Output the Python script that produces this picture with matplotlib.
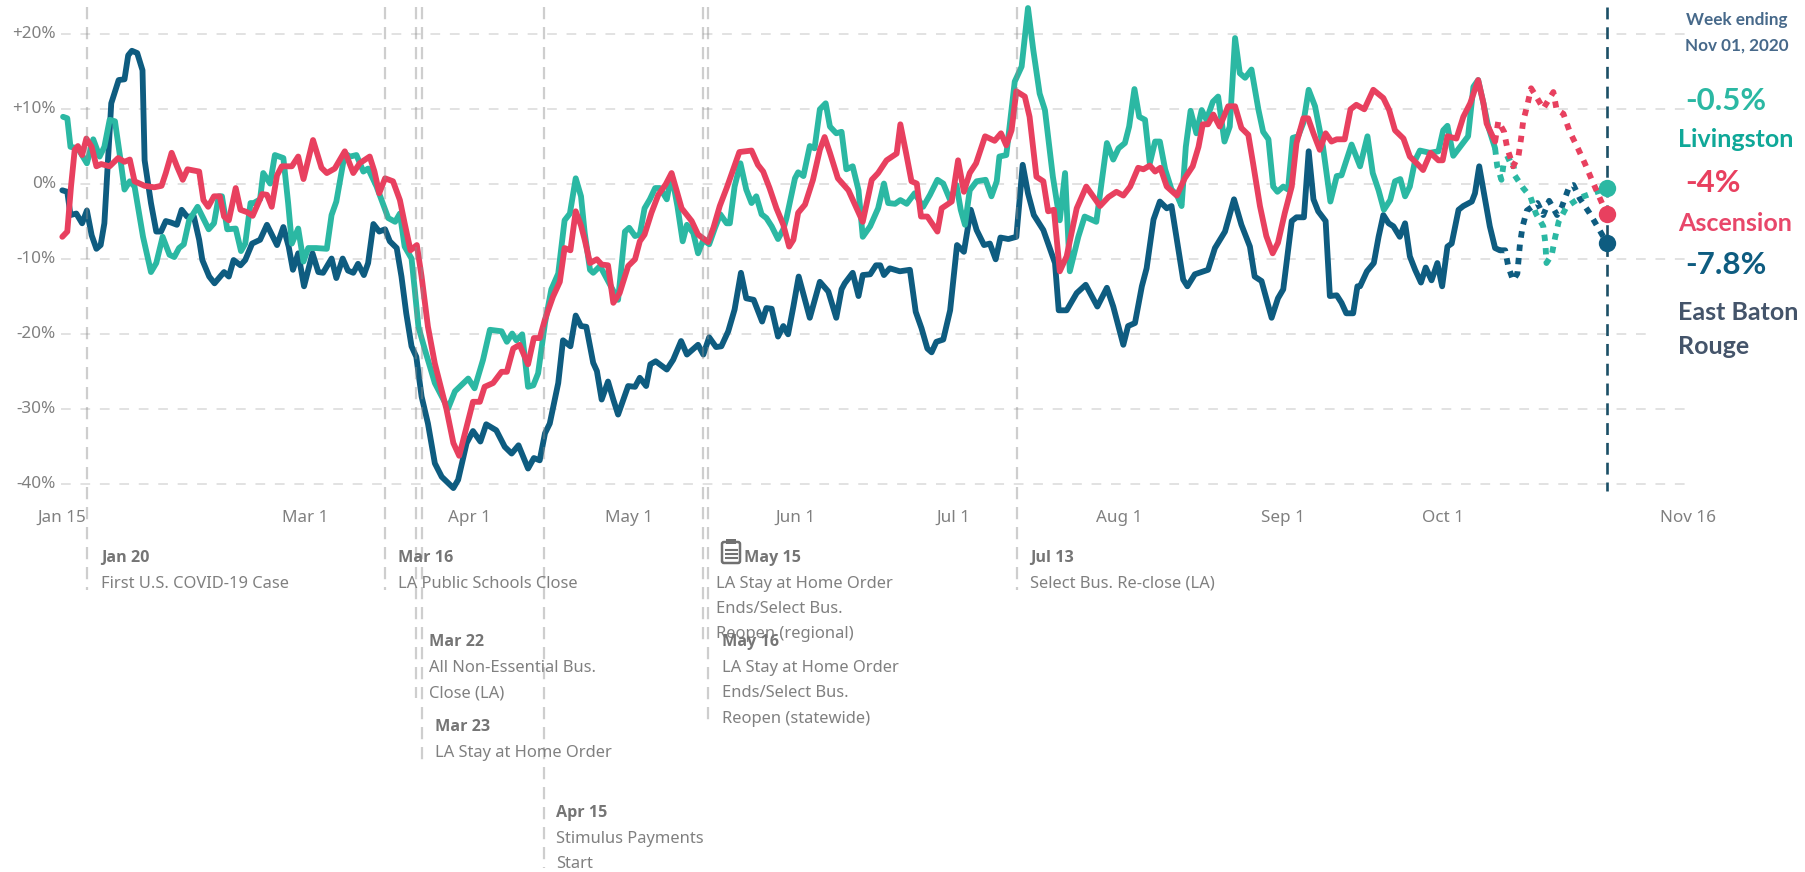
import numpy as np
import matplotlib
matplotlib.use('Agg')
import matplotlib.pyplot as plt
from matplotlib.patches import FancyBboxPatch, Rectangle

W, H = 1805, 872

# days since Jan 15
green_days = [0.2,1,1.6,3,4.7,5.9,7.1,8,9,10,10.9,11.8,12.8,13.7,15.3,16.8,17.8,19,20.3,21.2,22.1,23,24,25.6,26.5,27.7,28.7,29.6,30.2,31.2,32.8,33.8,34.6,35.6,36.2,37.4,38,39.3,40.2,41.8,42.7,43.4,44.6,45.6,46.5,48,
    50,50.9,51.8,53.4,54.4,55.6,56.9,57.8,59.4,61.6,62.9,63.8,64.7,66,66.6,67.3,68.5,70.4,72.9,74.2,76.7,77.9,79.5,80.8,83,84,85,85.8,86.9,88,89,89.9,91.2,92.4,93.7,94.9,95.9,97,98,
    98.7,99.7,100.3,101.6,105,106.3,107.1,108.2,109.1,110,111,112,112.9,114.2,115.1,116.2,117.2,118,119.2,120.1,121.1,122.2,123.3,124.3,125.5,126.1,127,128.1,129.2,130.2,131.1,132.1,133,134,135.2,136.2,136.8,138.4,139,140,141.2,142.1,143.1,144.2,145,146.2,147.2,
    148.1,149.3,150.4,151.2,152.6,154.1,155.2,156,157.3,158.3,159.5,161,162.6,163.9,165.3,166.4,167.7,168.9,169.7,170.5,171.4,172.7,174.4,175.5,176.5,177,178.3,179.9,181.2,182.4,183.4,184.6,185.6,187.1,188.4,189.4,190.3,191.9,193.1,195.3,197.3,
    198.5,199.5,200.7,201.5,202.5,203.4,204.5,205.4,206.4,207.3,208.3,209.5,210.5,211.4,212.2,213.1,214.2,215.2,216.1,217.3,218.3,219.5,220.5,221.5,222.4,223.4,224.6,225.9,226.8,227.8,228.7,229.5,230.6,231.5,232.4,233.4,234.4,235.4,236.6,238.1,239.5,240.7,241.6,243.5,245.1,
    246.5,247.5,248.6,249.6,250.8,251.7,252.7,253.6,254.5,255.5,256.4,258.3,259.9,260.8,261.6,262.7,264,265.5,266.5,267.4,268.4,269.3,270.6]
green_vals = [9,8.8,5,4.8,2.8,6,3.7,5,8.6,8.4,4,-0.7,0.4,-0.3,-7,-11.7,-10.5,-7,-9.4,-9.7,-8.5,-8,-4.8,-3,-4.3,-6,-5.2,-1.6,-1.6,-6,-5.9,-8.9,-7.9,-2.5,-2.5,-2,1.5,0.1,3.9,3.5,-2.5,-7.9,-5.9,-10.3,-8.5,-8.5,
    -8.6,-4.1,-2.3,4.1,3.7,3.9,1.7,2.1,-0.3,-4.5,-5,-3.9,-8.3,-9.9,-14,-19,-22,-26.5,-29.9,-27.6,-25.9,-27.2,-23.4,-19.4,-19.6,-21,-19.9,-20.8,-20,-27,-26.8,-25.2,-18.5,-14,-11.9,-4.8,-3.9,0.8,-1.6,
    -6.5,-11.4,-11.8,-10.9,-15.4,-6.3,-5.8,-6.9,-6.7,-3.2,-2,-0.5,-0.5,-2,1.3,-2.9,-7.6,-5.4,-6.5,-9.2,-7.4,-8,-5.8,-4,-5.2,-5.2,-0.3,2.8,-0.7,-2.5,-1.6,-4,-4.5,-5.6,-7.3,-6,-4.5,0.8,1.6,1.1,5.1,4.8,10,10.8,7.7,6.8,7,
    2,2.4,-0.8,-7,-5.6,-3.2,0.1,-2.5,-2.6,-2.1,-2.6,-1.2,-3,-1.4,0.6,0.1,-2.1,-0.1,-3.4,-5.4,-0.8,0.4,0.6,-1.6,0.4,3.7,3.9,13.7,15.7,23.5,17.9,12.1,9.9,1,-4.8,1.5,-11.6,-7,-4.3,-5,5.5,
    3.3,4.8,5.5,7.7,12.7,9,8.6,2.8,5.7,5.7,2,-0.7,-1.4,-2.9,5,9.8,6.8,9.9,8.6,11,11.7,5.7,7.7,19.5,14.8,14.2,15.3,10,7,6,-0.3,-1,-0.3,-0.7,6.2,6.4,8.2,12.6,10.4,5,-2.3,1.1,1.2,5.3,2.4,
    6.4,1.5,-0.8,-3.4,-2.1,0.4,0.7,-1.6,-0.3,3.2,4.5,4.2,4.4,7.2,7.8,3.8,5,6.4,13,13.9,10.8,7.7,4.8]
green_dot_days = [270.6,271,271.8,272.3,273.9,274.3,275.9,277.3,278.3,279.7,280.1,280.3,281.3,281.9,282.6,284.1,286.6,288.5,291.7]
green_dot_vals = [4.8,2.4,0.6,3.2,3.7,1.2,-0.5,-1.7,-3.9,-5.6,-7.9,-10.5,-9.4,-7.2,-5,-3,-1.8,-1.3,-0.5]

red_days = [0.06,1,1.7,2.4,3,3.8,4.6,5.6,6.5,7.4,9,10.6,11.8,12.8,13.7,15.6,17.4,18.8,19.6,20.7,21.7,22.8,23.7,25.9,26.7,27.6,28.7,29.8,30.6,31.5,32.8,33.7,34.9,36,37.8,38.7,39.6,40.6,41.5,43.4,44.6,45.6,47.4,
    49,50,51.5,53.4,55,56.2,58.1,59,59.9,61,62.5,63.8,64.7,65.8,67,67.9,69.1,70.4,72.6,73.9,75,76.4,77.6,78.9,79.8,81.4,83,84,85.2,86.4,88,89.1,90.2,91.2,92.7,94,94.9,96,97,98,
    98.7,99.7,101,101.9,103.1,104.1,105.3,106.9,108.2,109.1,110,111.3,112.6,114,115.1,116,117,118.9,120.1,122,123,124.2,125.5,127.9,130.2,131.4,132.4,133.6,134.9,136.2,137.3,138.1,139,140.3,141.8,143.1,144,145,146.5,
    148.5,151.2,152.9,154.1,155.7,157.6,158.3,159.4,160.4,161.4,162.2,163.4,165.3,166.1,168,169.2,170.3,171.4,172.6,174.3,176.1,177.3,178.3,179.3,180.2,181.8,182.7,184,185.3,186.2,187.3,188.4,189.7,191.6,193.4,196,
    197.6,199.1,200.4,201.7,203.2,204.2,205.4,206.4,207.4,208.6,210.5,212,213.5,214.6,215.4,216.4,217.4,218.6,220.2,221.5,222.7,224,224.9,226.2,227.4,228.6,229.6,230.9,232.2,233.1,234.4,235.3,236.3,237.5,238.6,239.7,240.7,242.2,243.3,244.4,245.9,
    247.6,249.5,250.6,251.7,253.3,254.5,255.8,257,258.4,259.9,260.7,261.6,263.3,264.6,265.9,267.4,268.4,269,270.6]
red_vals = [-7,-6.3,-0.3,4.6,5.1,3.9,6.1,5,2.4,2.7,2.4,3.5,3,3.3,0.4,-0.2,-0.4,-0.2,1.5,4.2,2.4,0.6,2,1.7,-2.1,-3,-1.6,-1.6,-4.3,-4.8,-0.5,-3.4,-3.7,-4.2,-1.3,-1.4,-3,1.2,2.4,2.4,3.7,0.7,5.9,
    2.2,1.5,2.1,4.4,1.5,2.8,3.7,1.7,-1.2,0.8,0.4,-2.1,-5.2,-8.8,-8.1,-12.3,-19,-23.9,-30,-34.5,-36.2,-32.3,-29,-29,-27,-26.5,-25,-25,-21.9,-21.4,-24,-20.5,-20.5,-18,-15,-13,-8.5,-8.8,-3.6,-5.5,
    -7.4,-10.5,-10,-10.7,-10.8,-15.8,-14.5,-10.9,-10,-7.6,-6.7,-3.8,-1.4,0,1.5,-0.7,-3.2,-4.9,-6.7,-7.7,-5.8,-2.9,-0.5,4.3,4.5,2.6,1.7,-0.5,-3.2,-5.4,-8.3,-7.4,-3.8,-2.7,0.6,4.6,6.3,4.2,0.8,
    -0.8,-5,0.6,1.5,3.2,4.1,8,4.1,0.4,0.1,-4.3,-4.3,-6.3,-3.2,-2.3,3.2,-1,1.5,2.8,6.4,5.8,6.8,5.2,7.2,12.4,11.7,9,1,0.4,-3.6,-3.4,-11.6,-9.6,-3.2,-0.3,-2.9,
    -1.7,-1,-1.5,-0.3,2.2,2,2.5,1.7,2.2,-0.3,-1.5,0.8,2.4,5,8,8,9.3,7.7,10.4,10.4,7.5,6.6,2.8,-2.9,-6.9,-9.2,-7.8,-3.8,-0.3,5.5,8.8,8.8,6.8,4.6,6.8,5.7,6,6,10,10.6,10,
    12.6,11.5,9.9,7.2,6.1,3.7,2.8,1.9,4.2,3.2,3.2,6.4,6.1,9,10.8,13.9,10.8,8.1,5.7]
red_dot_days = [270.6,271.2,272.3,272.9,274,275,275.5,275.9,276.7,277.4,278.2,279.7,281.6,282.2,283.5,284.7,286.3,287.6,288.8,290.1,291.7]
red_dot_vals = [5.7,8.4,7,4.8,2.4,3.7,6.1,8.4,10.6,12.8,11.9,10.1,12.3,10,9.4,7,4.7,2.7,0.7,-1.4,-4]

dark_days = [0.06,1,1.6,2.7,3.8,4.7,5.6,6.5,7.3,8,9.3,10.7,11.8,12.5,13.2,14.2,15.2,15.6,16.8,17.8,18.7,19.6,20.6,21.7,22.6,23.6,24.9,25.9,26.5,27.8,28.8,30.6,31.5,32.4,33.7,34.6,35.9,37.4,38.7,40.6,41.8,42.8,43.6,44.6,45.7,47.3,48.4,49.3,
    50.9,51.8,53,54,55,55.9,57,57.8,58.8,59.9,61,61.9,63.2,64.1,65,66,66.9,67.9,69.1,70.4,71.7,73.9,74.8,76.4,77.6,79,80.1,82,83.6,84.9,86.2,88,89.1,90.2,91.2,92.1,93.7,94.6,96,97,98,99,
    100.3,101,101.9,103.1,104.1,105,106.9,108.2,109.1,110.3,111.1,112.1,114.2,115.4,116.9,118,120.1,121.1,122.2,123.5,124.5,125.8,127,128.2,129.2,130.6,132.2,133,134,135.2,136.2,137.1,138.1,139.1,140.1,141.2,143.1,144.7,146.2,147.2,
    147.8,149.3,150.4,151.2,152.6,153.7,154.5,155.2,156.3,158.2,160.1,161.2,162.3,163.4,164.2,165.1,166.4,167.7,169,170.3,171.6,172.7,174.1,175.2,176.3,177.2,178.7,180.2,181.4,182.4,183.5,185.3,186.5,187.5,188.2,189.7,191.6,193.3,195.5,197.3,
    198.5,200.4,201.3,202.6,203.9,204.8,206.1,207.3,208.6,209.5,210.8,211.7,212.5,213.9,216.4,217.7,219.6,221.3,222.7,224.3,225.2,226.5,228.4,229.6,230.6,232.2,233.1,234.5,235.4,236.3,237.2,238.6,239.4,240.7,241.6,242.5,243.8,244.6,245.1,
    246.4,247.7,248.6,249.5,250.5,251.4,252.6,253.6,254.5,255.5,256.6,257.5,258.6,259.7,260.6,261.6,262.4,263.7,264.6,266.2,266.8,267.6,268.5,269.6,270.6,271.5]
dark_vals = [-0.8,-1,-4.1,-3.9,-5.2,-3.5,-6.8,-8.6,-8.1,-5.2,10.8,13.9,14,17.2,17.8,17.5,15.2,3.2,-2.5,-6.3,-6.3,-4.9,-5.1,-5.4,-3.4,-4.3,-4.3,-7.4,-10.1,-12.3,-13.2,-11.7,-12.3,-10.1,-10.8,-10.1,-7.9,-7.4,-5.4,-8.1,-5.7,-8.3,-11.4,-9.2,-13.6,-9.2,-11.7,-11.8,
    -9.9,-12.5,-9.9,-11.5,-11.8,-10.6,-12.1,-10.5,-5.3,-6.3,-6,-7.6,-8.5,-12.3,-17.2,-21.6,-23,-28.3,-31.9,-37.2,-39,-40.5,-39.4,-34.5,-32.9,-34.3,-32,-32.8,-35,-35.9,-34.8,-37.9,-36.5,-36.8,-33.2,-31.9,-26.5,-20.8,-21.6,-17.5,-18.9,-19,
    -23.8,-24.9,-28.7,-26.3,-28.7,-30.7,-26.9,-27,-25.8,-26.9,-24,-23.6,-24.7,-23.4,-20.9,-22.7,-21.4,-22.7,-20.4,-21.7,-21.6,-19.6,-16.7,-11.8,-15.2,-15.4,-18.3,-16.5,-16.6,-20.3,-18.9,-20,-16.3,-12.3,-14.9,-17.8,-13,-14.3,-17.8,-14,
    -13.2,-11.8,-14.9,-12.1,-12,-10.8,-10.8,-12.1,-11.2,-11.6,-11.4,-17,-19.2,-21.9,-22.4,-21,-20.7,-16.8,-8.1,-9,-3.4,-6.1,-8.1,-7.9,-10,-7.1,-7.3,-7,2.6,-1.2,-4.1,-6.1,-8.5,-10.5,-16.8,-16.8,-14.5,-13.4,-16.3,-13.8,
    -16.3,-21.4,-18.9,-18.5,-13.6,-11.2,-4.7,-2.3,-3.2,-2.9,-8.7,-12.7,-13.6,-12,-11.4,-8.5,-6.3,-2,-5.4,-8.3,-12.3,-12.9,-17.8,-15.2,-14,-4.9,-4.4,-4.4,4.4,-2,-3.6,-4.9,-14.9,-14.8,-15.8,-17.2,-17.2,-13.6,-13.6,
    -11.6,-10.5,-7,-4.1,-5.2,-5.6,-7,-5.2,-9.6,-11.4,-13.1,-11.1,-12.8,-10.5,-13.6,-8.3,-7.9,-3.4,-2.9,-2.3,-1.2,2.4,-1.2,-5.6,-8.5,-8.8]
dark_dot_days = [271.5,272.5,273.1,274,274.8,275.3,275.8,276.6,278.6,279.7,280.8,282.3,283.2,284.6,285.4,286.6,288.4,289.9,291.7]
dark_dot_vals = [-8.8,-8.8,-11,-12.8,-11.9,-7.9,-5.6,-3.5,-2.5,-4.1,-2.2,-4.1,-3,-0.3,-0.1,-1.9,-3.8,-5.6,-7.8]

GREEN = '#2bb8a3'
RED = '#e8405f'
DARK = '#0e5c80'
GREY = '#808080'

y_ticks = [20, 10, 0, -10, -20, -30, -40]
y_labels = ['+20%', '+10%', '0%', '-10%', '-20%', '-30%', '-40%']
grid_end_px = [1686, 1686, 1607, 1686, 1653, 1686, 1686]
x_ticks = [0, 46, 77, 107, 138.4, 168.4, 199.6, 230.5, 260.7, 307]
x_labels = ['Jan 15', 'Mar 1', 'Apr 1', 'May 1', 'Jun 1', 'Jul 1', 'Aug 1', 'Sep 1', 'Oct 1', 'Nov 16']

# event day, bottom of line in px, text x px, heading y px, text lines
events = [
    (4.7, 590, 100.7, 558, 'Jan 20', ['First U.S. COVID-19 Case']),
    (60.9, 590, 397.5, 558, 'Mar 16', ['LA Public Schools Close']),
    (66.9, 698, 429, 642, 'Mar 22', ['All Non-Essential Bus.', 'Close (LA)']),
    (67.9, 760, 435, 727, 'Mar 23', ['LA Stay at Home Order']),
    (91, 868, 556.5, 813, 'Apr 15', ['Stimulus Payments', 'Start']),
    (121.1, 641, 744.5, 558, 'May 15', ['LA Stay at Home Order', 'Ends/Select Bus.', 'Reopen (regional)']),
    (122, 727, 722, 642, 'May 16', ['LA Stay at Home Order', 'Ends/Select Bus.', 'Reopen (statewide)']),
    (180.3, 590, 1030, 558, 'Jul 13', ['Select Bus. Re-close (LA)']),
]
may15_body_x = 716.5

plt.rcParams['font.family'] = ['Noto Sans', 'DejaVu Sans']

fig = plt.figure(figsize=(W / 100, H / 100), dpi=100)
ax = fig.add_axes([0, 0, 1, 1])
ax.axis('off')
ax.set_xlim(-62 / 5.296, (W - 62) / 5.296)
ax.set_ylim((184.3 - H) / 7.5, 184.3 / 7.5)


def px_y(py):
    return (184.3 - py) / 7.5


def px_x(px):
    return (px - 62) / 5.296


# grid
for v, end in zip(y_ticks, grid_end_px):
    ax.plot([px_x(61), px_x(end)], [v, v], color='#e2e2e2', lw=1.4, ls=(0, (5, 5)), zorder=1)
for v, lab in zip(y_ticks, y_labels):
    ax.text(px_x(56), v, lab, ha='right', va='center', fontsize=12.3, color=GREY)
for d, lab in zip(x_ticks, x_labels):
    ax.text(d, px_y(518), lab, ha='center', va='center', fontsize=12.3, color=GREY)

# series
line_kw = dict(lw=4.2, solid_joinstyle='round', solid_capstyle='round')
dot_kw = dict(lw=4.2, ls=(0, (1.1, 1.2)), dash_capstyle='butt')
ax.plot(dark_days, dark_vals, color=DARK, zorder=3, **line_kw)
ax.plot(dark_dot_days, dark_dot_vals, color=DARK, zorder=3, **dot_kw)
ax.plot(green_days, green_vals, color=GREEN, zorder=4, **line_kw)
ax.plot(green_dot_days, green_dot_vals, color=GREEN, zorder=4, **dot_kw)
ax.plot(red_days, red_vals, color=RED, zorder=5, **line_kw)
ax.plot(red_dot_days, red_dot_vals, color=RED, zorder=5, **dot_kw)

# event lines and notes
for d, end, tx, ty, head, body in events:
    ax.plot([d, d], [px_y(7), px_y(end)], color=(0.55, 0.55, 0.55, 0.42), lw=1.6,
            ls=(0, (5.5, 3.5)), zorder=6, clip_on=False)
    ax.text(px_x(tx), px_y(ty), head, ha='left', va='center', fontsize=11.6, family='Open Sans',
            fontweight='bold', color='#757575', zorder=7)
    body_x = may15_body_x if head == 'May 15' else tx
    for i, s in enumerate(body):
        ax.text(px_x(body_x), px_y(ty + 25.5 * (i + 1)), s, ha='left', va='center',
                fontsize=11.9, color=GREY, zorder=7)

# now line with end dots
ax.plot([291.7, 291.7], [px_y(7), px_y(491)], color='#1b4f66', lw=1.9, ls=(0, (4.5, 3)), zorder=6)
for v, c in zip([green_dot_vals[-1], red_dot_vals[-1], dark_dot_vals[-1]], [GREEN, RED, DARK]):
    ax.plot([291.7], [v], 'o', color=c, ms=12.5, mec='none', zorder=8)

# clipboard icon
icon = FancyBboxPatch((722, H - 563), 18, 21, boxstyle='round,pad=0,rounding_size=2', fc='none',
                      ec='#707070', lw=1.8, transform=None)
fig.add_artist(icon)
icon_kw = dict(color='#707070', lw=1.5)
for yy in [550, 554, 558]:
    fig.add_artist(plt.Line2D([725.5, 736.5], [H - yy, H - yy], transform=None, **icon_kw))
fig.add_artist(Rectangle((726, H - 544), 10, 5, fc='#707070', ec='none', transform=None))

# right side summary
ax.text(px_x(1737), px_y(20), 'Week ending', ha='center', va='center', fontsize=12.3, family='Lato',
        fontweight='bold', color='#47698a')
ax.text(px_x(1737), px_y(46), 'Nov 01, 2020', ha='center', va='center', fontsize=12.3, family='Lato',
        fontweight='bold', color='#47698a')
for py, s, c in [(101, '-0.5%', GREEN), (183, '-4%', RED), (265, '-7.8%', DARK)]:
    ax.text(px_x(1685), px_y(py), s, ha='left', va='center', fontsize=22.5, family='Lato',
            fontweight='bold', color=c)
for py, s, c in [(139, 'Livingston', '#0fa898'), (223, 'Ascension', '#e8476a'),
                 (312, 'East Baton', '#44546a'), (346, 'Rouge', '#44546a')]:
    ax.text(px_x(1678), px_y(py), s, ha='left', va='center', fontsize=18, family='Lato',
            fontweight='bold', color=c)

fig.savefig('out.png', dpi=100, facecolor='white')
